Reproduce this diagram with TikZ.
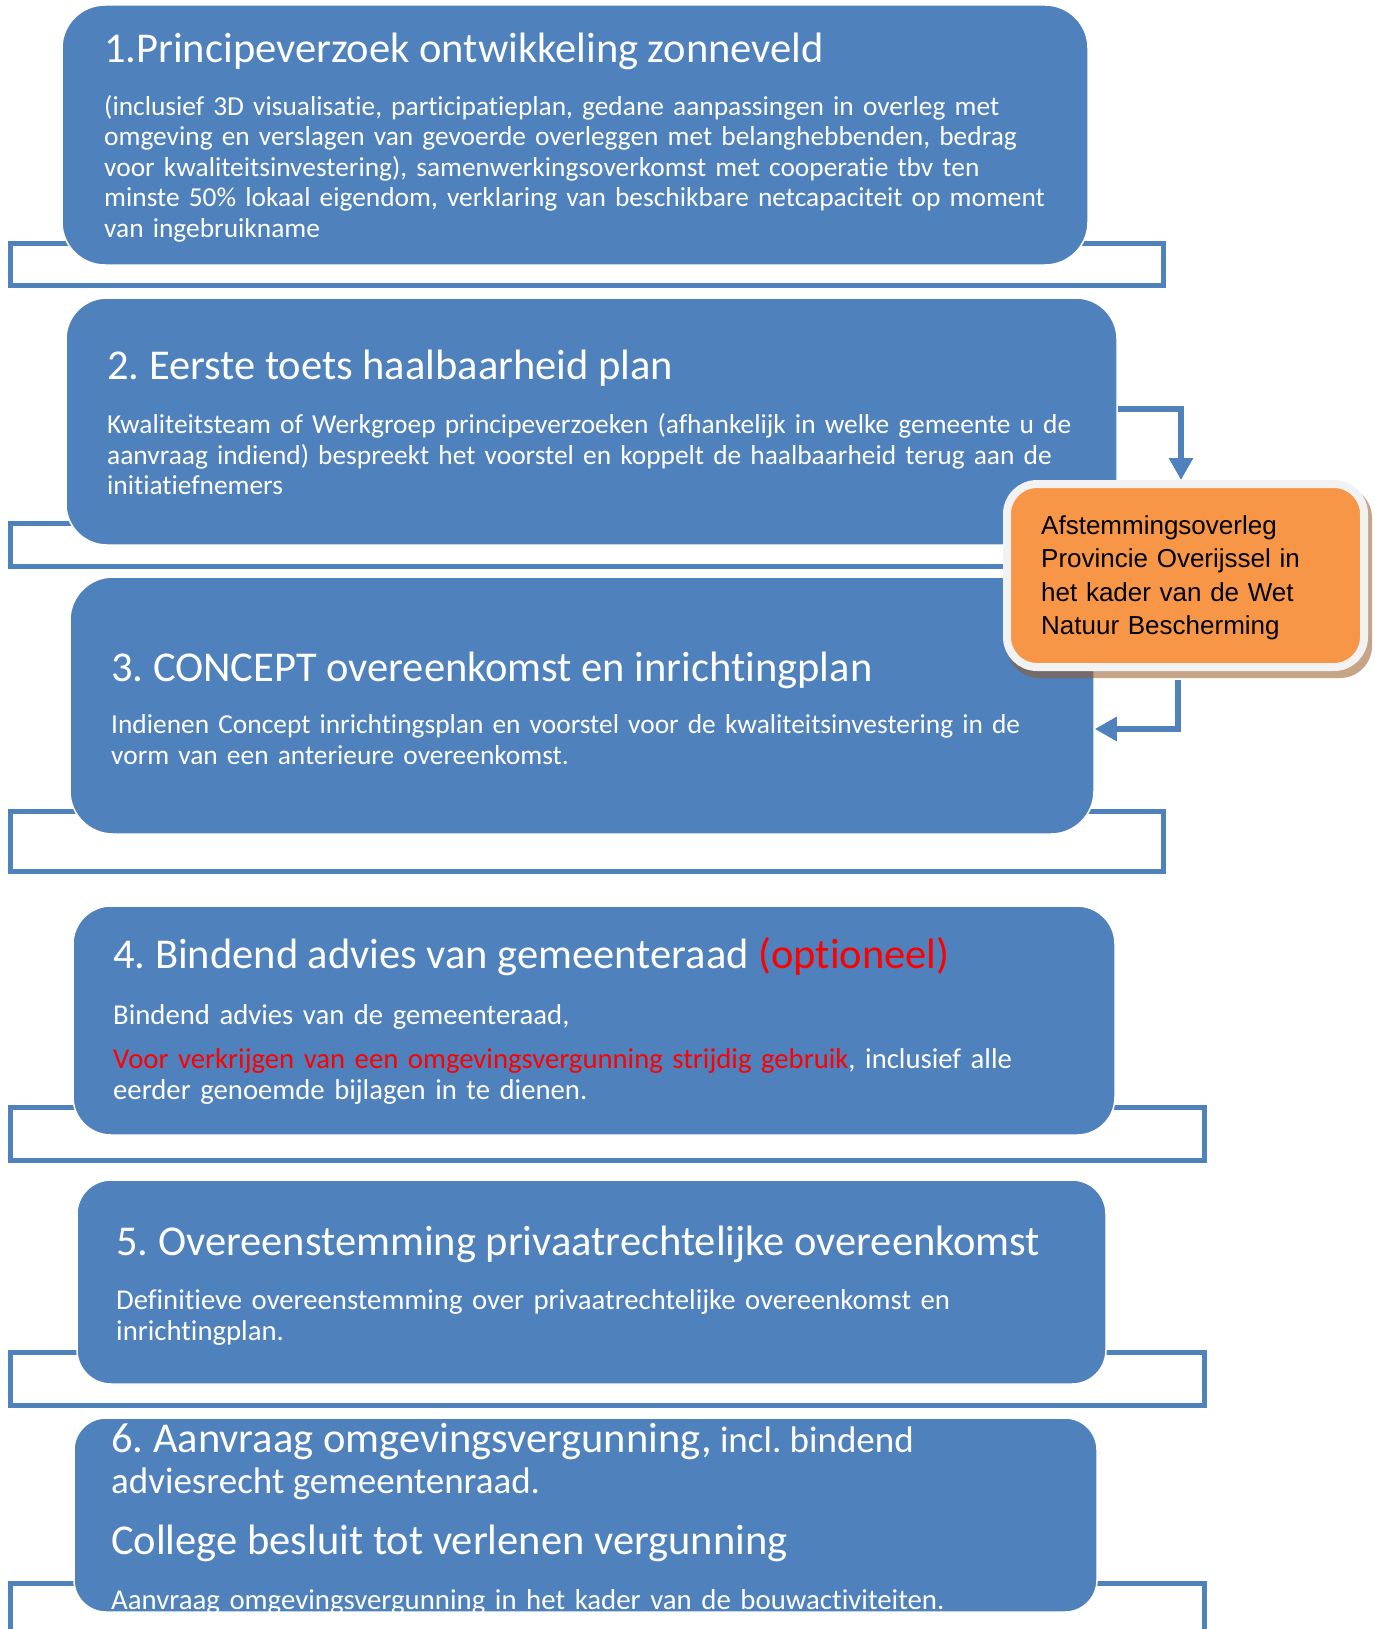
\documentclass[tikz,border=0pt]{standalone}
\usepackage{fontspec}
\setmainfont{Carlito}[Ligatures=NoCommon]
\newfontfamily\arialfont{Liberation Sans}
\usetikzlibrary{arrows.meta}
\definecolor{boxblue}{HTML}{4F81BD}
\definecolor{orng}{HTML}{F79646}
\definecolor{rimgray}{HTML}{F2F2F2}
\definecolor{shadowbrown}{RGB}{150,90,40}
\definecolor{redtxt}{HTML}{FF0000}
\tikzset{
  stepbox/.style={fill=boxblue, draw=white, line width=1.5pt, inner sep=0pt},
  bracket/.style={draw=boxblue, line width=5pt},
  ttl/.style={anchor=base west, inner sep=0pt, text=white, font=\frenchspacing\fontsize{42.5}{50}\selectfont},
  subttl/.style={anchor=base west, inner sep=0pt, text=white, font=\frenchspacing\fontsize{37}{44}\selectfont},
  bodytxt/.style={anchor=base west, inner sep=0pt, text=white, text width=1100pt, align=left, font=\frenchspacing\fontsize{27.4}{30.5}\selectfont},
  bigbody/.style={bodytxt, font=\frenchspacing\fontsize{28.7}{31}\selectfont},
  orangebox/.style={fill=orng, draw=rimgray, line width=8pt, rounded corners=30pt, inner sep=0pt},
  orangetxt/.style={anchor=base west, inner sep=0pt, text=black, text width=330pt, align=left, font=\arialfont\frenchspacing\fontsize{26}{33.3}\selectfont},
  flowarrow/.style={draw=boxblue, line width=6pt, -{Triangle[length=22pt,width=23pt]}},
}
\begin{document}
\frenchspacing
\begin{tikzpicture}[x=1pt,y=-1pt]
\useasboundingbox (0,0) rectangle (1374,1629);
\fill[white] (0,0) rectangle (1374,1629);

% brackets behind the boxes
\draw[bracket] (10,244) rectangle (1163,285);
\draw[bracket] (10,523) rectangle (1163,566);
\draw[bracket] (10,811) rectangle (1163,871);
\draw[bracket] (10,1107) rectangle (1204,1160);
\draw[bracket] (10,1352) rectangle (1204,1405);
\draw[bracket] (10,1700) |- (1204,1583) -- (1204,1700);

% step boxes
\node[stepbox, minimum width=1026pt, minimum height=260pt, rounded corners=43pt] (s1) at (575,135) {};
\node[stepbox, minimum width=1051pt, minimum height=247pt, rounded corners=41pt] (s2) at (591.5,421.5) {};
\node[stepbox, minimum width=1024pt, minimum height=257pt, rounded corners=43pt] (s3) at (582,705.5) {};
\node[stepbox, minimum width=1042pt, minimum height=229pt, rounded corners=38pt] (s4) at (594,1020.5) {};
\node[stepbox, minimum width=1029pt, minimum height=204pt, rounded corners=34pt] (s5) at (591.5,1282) {};
\node[stepbox, minimum width=1023pt, minimum height=194pt, rounded corners=32pt] (s6) at (585.5,1515) {};

% orange box with shadow
\fill[shadowbrown, fill opacity=0.55, rounded corners=32pt] (1007,486) rectangle (1372,678);
\node[orangebox, minimum width=357pt, minimum height=183pt] (ob) at (1185.5,575.5) {};

% arrows
\draw[flowarrow] (s2.east |- 0,409) -| ([xshift=-4.5pt]ob.north);
\draw[flowarrow] ([xshift=-7.5pt,yshift=-9pt]ob.south) |- (s3.east |- 0,729);

% texts
\node[ttl] (t1) at (104,63) {1.Principeverzoek ontwikkeling zonneveld};
\node[bodytxt] (b1) at (104,115.5) {(inclusief 3D visualisatie, participatieplan, gedane aanpassingen in overleg met\\
omgeving en verslagen van gevoerde overleggen met belanghebbenden, bedrag\\
voor kwaliteitsinvestering), samenwerkingsoverkomst met cooperatie tbv ten\\
minste 50\% lokaal eigendom, verklaring van beschikbare netcapaciteit op moment\\
van ingebruikname};

\node[ttl] (t2) at (107,379) {2. Eerste toets haalbaarheid plan};
\node[bodytxt] (b2) at (107,433.5) {Kwaliteitsteam of Werkgroep principeverzoeken (afhankelijk in welke gemeente u de\\
aanvraag indiend) bespreekt het voorstel en koppelt de haalbaarheid terug aan de\\
initiatiefnemers};

\node[ttl] (t3) at (111,681) {3. CONCEPT overeenkomst en inrichtingplan};
\node[bodytxt] (b3) at (111,733.5) {Indienen Concept inrichtingsplan en voorstel voor de kwaliteitsinvestering in de\\
vorm van een anterieure overeenkomst.};

\node[ttl] (t4) at (113,968) {4. Bindend advies van gemeenteraad \textcolor{redtxt}{(optioneel)}};
\node[bigbody] (b4a) at (113,1024.5) {Bindend advies van de gemeenteraad,};
\node[bigbody] (b4b) at (113,1068.5) {\textcolor{redtxt}{Voor verkrijgen van een omgevingsvergunning strijdig gebruik}, inclusief alle\\
eerder genoemde bijlagen in te dienen.};

\node[ttl] (t5) at (116,1255) {5. Overeenstemming privaatrechtelijke overeenkomst};
\node[bigbody] (b5) at (116,1309.5) {Definitieve overeenstemming over privaatrechtelijke overeenkomst en\\
inrichtingplan.};

\node[ttl] (t6a) at (111,1452) {6. Aanvraag omgevingsvergunning,{\fontsize{37}{44}\selectfont{} incl. bindend}};
\node[subttl] (t6b) at (111,1493) {adviesrecht gemeentenraad.};
\node[ttl] (t6c) at (111,1554) {College besluit tot verlenen vergunning};
\node[bodytxt, font=\frenchspacing\fontsize{28.8}{32}\selectfont] (b6) at (111,1609) {Aanvraag omgevingsvergunning in het kader van de bouwactiviteiten.};

\node[orangetxt] (ot) at (1041,534.5) {Afstemmingsoverleg\\
Provincie Overijssel in\\
het kader van de Wet\\
Natuur Bescherming};
\end{tikzpicture}
\end{document}
